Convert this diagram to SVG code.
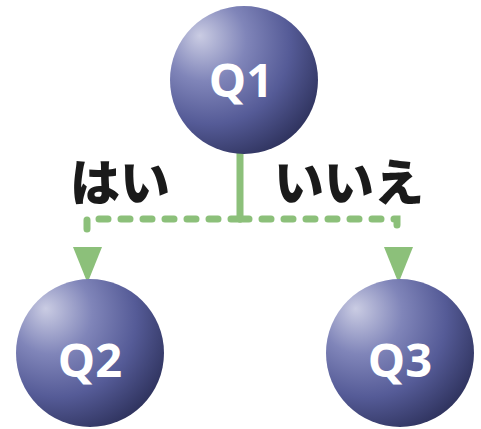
<svg xmlns="http://www.w3.org/2000/svg" width="481" height="429" viewBox="0 0 481 429">
<style>
.q{font-family:"Open Sans","Liberation Sans",sans-serif;font-weight:700;font-size:47px;fill:#ffffff;text-anchor:middle}
.lbl{font-family:"Noto Sans CJK JP","Noto Sans",sans-serif;font-weight:900;font-size:50px;fill:#1a1a1a}
.c{stroke:#8cc07a;stroke-width:7;fill:none;stroke-linecap:round}
.ball{fill:url(#sph)}
</style>
<defs>
<radialGradient id="sph" cx="0.3" cy="0.28" r="0.8" fx="0.2" fy="0.2">
<stop offset="0" stop-color="#cacce3"/>
<stop offset="0.35" stop-color="#8085b9"/>
<stop offset="0.68" stop-color="#555b97"/>
<stop offset="1" stop-color="#2f335e"/>
</radialGradient>
</defs>
<rect width="481" height="429" fill="#ffffff"/>
<g id="connectors">
<line class="c" x1="240" y1="150" x2="240" y2="219"/>
<path class="c" d="M240,219 H87 V234" stroke-dasharray="9 13"/>
<path class="c" d="M240,219 H397 V234" stroke-dasharray="9 13"/>
<path d="M73,247 L102,247 L87.5,283 Z" fill="#8cc07a"/>
<path d="M384,247 L413,247 L398.5,283 Z" fill="#8cc07a"/>
</g>
<g id="Q1">
<circle class="ball" cx="244" cy="80" r="74"/>
<text class="q" x="241" y="97">Q1</text>
</g>
<g id="Q2">
<circle class="ball" cx="90" cy="353" r="74"/>
<text class="q" x="90" y="377">Q2</text>
</g>
<g id="Q3">
<circle class="ball" cx="400" cy="353" r="74"/>
<text class="q" x="400" y="377">Q3</text>
</g>
<g id="label-yes"><text class="lbl" x="70" y="201">はい</text></g>
<g id="label-no"><text class="lbl" x="274" y="201">いいえ</text></g>
</svg>
